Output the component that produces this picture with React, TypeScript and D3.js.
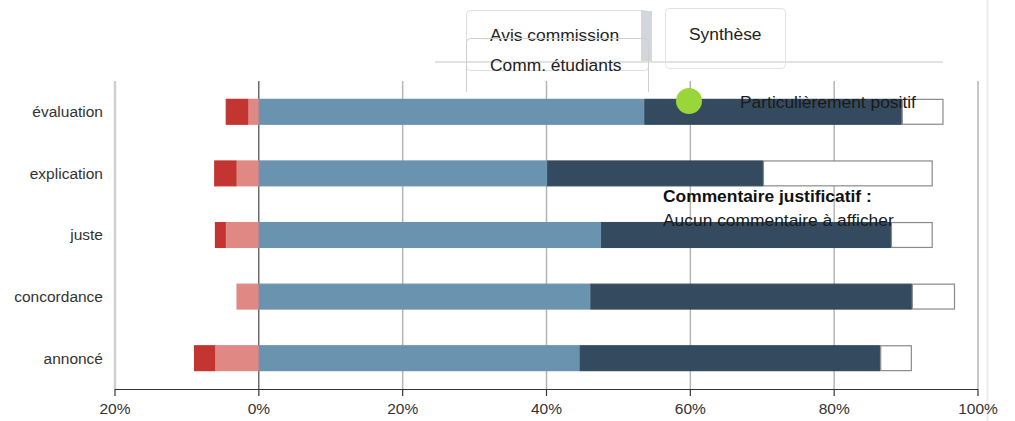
import React from "react";
import * as d3 from "d3";

const categories = ["évaluation", "explication", "juste", "concordance", "annoncé"];
const tresNegatif = [3.1, 3.1, 1.5, 0, 2.9];
const negatif = [1.5, 3.1, 4.6, 3.1, 6.1];
const positif = [53.6, 40.1, 47.6, 46.1, 44.6];
const tresPositif = [35.8, 30.0, 40.3, 44.7, 41.8];
const sansAvis = [5.8, 23.6, 5.8, 6.0, 4.4];
const xTicks = [-20, 0, 20, 40, 60, 80, 100];
const xTickLabels = ["20%", "0%", "20%", "40%", "60%", "80%", "100%"];

const W = 1015;
const H = 421;
const FONT = "'Liberation Sans', Arial, Helvetica, sans-serif";

export default function App() {
  const x = d3.scaleLinear().domain([-20, 100]).range([115, 978]);
  const y = d3.scaleBand<string>().domain(categories).range([81, 389]).paddingInner(0.58).paddingOuter(0.29);
  const bw = y.bandwidth();

  const rows = categories.map((c, i) => {
    const segs: { x0: number; x1: number; fill: string; stroke: string }[] = [];
    const n1 = negatif[i];
    const n2 = tresNegatif[i];
    segs.push({ x0: -n1, x1: 0, fill: "#e08884", stroke: "#e08884" });
    if (n2 > 0) segs.push({ x0: -n1 - n2, x1: -n1, fill: "#c23531", stroke: "#c23531" });
    let acc = 0;
    segs.push({ x0: acc, x1: acc + positif[i], fill: "#6a93b0", stroke: "#6a93b0" });
    acc += positif[i];
    segs.push({ x0: acc, x1: acc + tresPositif[i], fill: "#344b5f", stroke: "#344b5f" });
    acc += tresPositif[i];
    segs.push({ x0: acc, x1: acc + sansAvis[i], fill: "#ffffff", stroke: "#8a8a8a" });
    return { c, segs };
  });

  return (
    <svg width={W} height={H} style={{ position: "absolute", left: 0, top: 0, display: "block" }} fontFamily={FONT}>
      <rect x={0} y={0} width={W} height={H} fill="#fff" />
      {/* right border */}
      <line x1={987.5} x2={987.5} y1={0} y2={H} stroke="#ececec" strokeWidth={2} />
      {/* gridlines */}
      {xTicks.map((t) => (
        <line
          key={"g" + t}
          x1={x(t)}
          x2={x(t)}
          y1={81}
          y2={389}
          stroke={t === 0 ? "#222" : t === -20 ? "#cfcfcf" : "#b5b5b5"}
          strokeWidth={t === 0 ? 1 : t === -20 ? 2.5 : 1.5}
        />
      ))}
      {/* bars */}
      {rows.map((r) =>
        r.segs.map((s, j) => (
          <rect
            key={r.c + j}
            x={x(s.x0) + 0.5}
            y={(y(r.c) as number) + 0.5}
            width={Math.max(0, x(s.x1) - x(s.x0) - 1)}
            height={bw - 1}
            fill={s.fill}
            stroke={s.stroke}
            strokeWidth={1.2}
          />
        ))
      )}
      {/* x axis */}
      <line x1={x(-20)} x2={x(100)} y1={389.5} y2={389.5} stroke="#333" strokeWidth={1.2} />
      {xTicks.map((t, i) => (
        <g key={"t" + t}>
          <line x1={x(t)} x2={x(t)} y1={389} y2={396} stroke="#333" strokeWidth={1.2} />
          <text x={x(t)} y={414} textAnchor="middle" fontSize={15.5} fill="#333">
            {xTickLabels[i]}
          </text>
        </g>
      ))}
      {/* y labels */}
      {categories.map((c) => (
        <text key={"y" + c} x={103} y={(y(c) as number) + bw / 2} dy="0.35em" textAnchor="end" fontSize={15.5} fill="#333">
          {c}
        </text>
      ))}
      {/* tabs */}
      <rect x={466.5} y={10.5} width={182} height={60} rx={4} fill="none" stroke="#dedede" />
      <rect x={641} y={11} width={11} height={51} fill="#d3d6dc" />
      <rect x={665.5} y={8.5} width={120} height={60} rx={4} fill="none" stroke="#e2e2e2" />
      <line x1={435} x2={943} y1={62} y2={62} stroke="#e2e2e2" strokeWidth={2} />
      <text x={490} y={41} fontSize={17.4} fill="#222">Avis commission</text>
      <path d="M466.5,92 V42.5 a4,4 0 0 1 4,-4 H644.5 a4,4 0 0 1 4,4 V92" fill="none" stroke="#cfcfcf" />
      <text x={490} y={71} fontSize={17.4} fill="#222">Comm. étudiants</text>
      <text x={689} y={40} fontSize={17.4} fill="#222">Synthèse</text>
      {/* legend */}
      <circle cx={689} cy={101} r={13} fill="#99d63a" />
      <text x={740} y={108} fontSize={17.4} fill="#1a1a1a">Particulièrement positif</text>
      <text x={663} y={202} fontSize={17.4} fontWeight="bold" fill="#111">Commentaire justificatif :</text>
      <text x={663} y={226} fontSize={17.4} fill="#1a1a1a">Aucun commentaire à afficher</text>
    </svg>
  );
}
